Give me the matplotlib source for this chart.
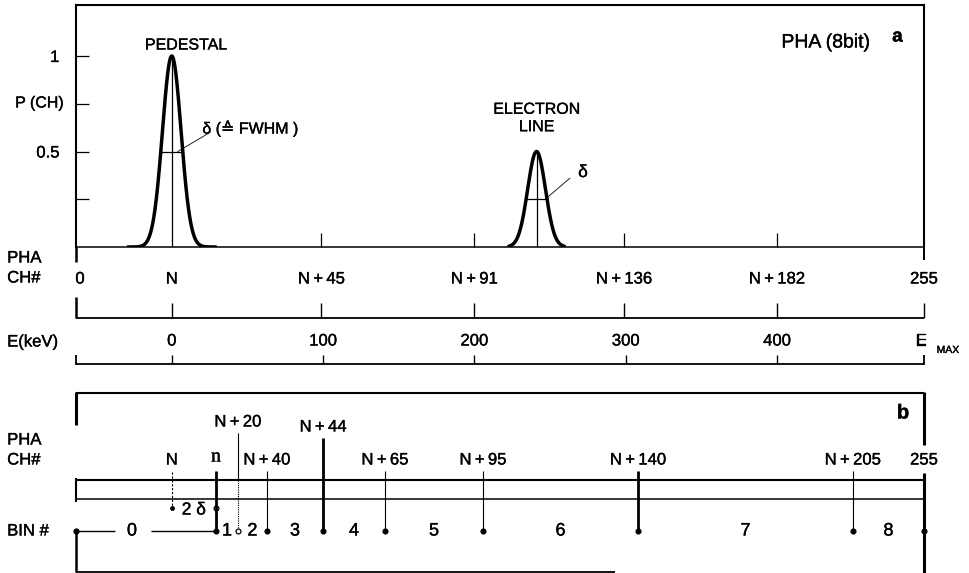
import numpy as np
import matplotlib.pyplot as plt
import matplotlib.patheffects as pe

plt.rcParams['font.family'] = ['Liberation Sans', 'DejaVu Sans']
plt.rcParams['font.size'] = 12

# 8 bit pulse height spectrum, x in PHA channels
ped_ch = 28.8          # pedestal position N
ped_fwhm = 6.6
ped_span = 13.0
el_ch = 138.5          # electron line
el_fwhm = 6.3
el_peak = 0.5
el_span = 8.2

ch_offsets = [45, 91, 136, 182]
e_ticks = [0, 100, 200, 300, 400]
ch_per_100kev = 45.5

# bin boundaries used for the compressed spectrum (panel b)
edge_ch = [42.1, 48.7, 57.4, 74.3, 92.9, 122.4, 169.0, 233.6, 255]
edge_labels = ['n', 'N+20', 'N+40', 'N+44', 'N+65', 'N+95', 'N+140', 'N+205', '255']
bin_numbers = list(range(9))

heavy = {'n', 'N+44', 'N+140', '255'}
raised = {'N+20': 422, 'N+44': 427}

W, H = 969, 573
x0_px, x1_px = 76, 924
s = (x1_px - x0_px) / 255
ink = [pe.withStroke(linewidth=0.25, foreground='k')]

fig = plt.figure(figsize=(W / 100, H / 100), dpi=100)
ax = fig.add_axes([0, 0, 1, 1])
ax.set_xlim(-x0_px / s, 255 + (W - x1_px) / s)
ax.set_ylim(H, 0)
ax.axis('off')


def txt(x, y, t, target=None, **kw):
    kw.setdefault('ha', 'center')
    kw.setdefault('va', 'center')
    return (target or ax).text(x, y, t, path_effects=ink, **kw)


def spaced(label):
    # printed labels have a little air around the plus sign
    return label.replace('+', '\u2009+\u2009')


def vline(x, r0, r1, lw=1.3, **kw):
    ax.plot([x, x], [r0, r1], color='k', lw=lw, solid_capstyle='butt', **kw)


def hline(r, x0, x1, lw=1.3, **kw):
    ax.plot([x0, x1], [r, r], color='k', lw=lw, solid_capstyle='butt', **kw)


# ---- panel a: spectrum ----
base_row, one_row, top_row = 247, 56, 5
unit = base_row - one_row
ax_a = fig.add_axes([x0_px / W, 1 - base_row / H, (x1_px - x0_px) / W, (base_row - top_row) / H])
ax_a.set_xlim(0, 255)
ax_a.set_ylim(0, (base_row - top_row) / unit)
ax_a.patch.set_visible(False)
for name, sp in ax_a.spines.items():
    sp.set_linewidth(1.1 if name == 'bottom' else 1.5)
ax_a.set_yticks([0.25, 0.5, 0.75, 1])
ax_a.set_yticklabels(['', '0.5', '', '1'])
ax_a.tick_params(axis='y', direction='in', length=9, width=0.9, pad=12, labelsize=12)
for lab in ax_a.get_yticklabels():
    lab.set_path_effects(ink)
ax_a.set_xticks([ped_ch + o for o in ch_offsets])
ax_a.tick_params(axis='x', direction='in', length=10, width=0.9, labelbottom=False)


def peak(ax_, centre, fwhm, height, span):
    sig = fwhm / (2 * np.sqrt(2 * np.log(2)))
    x = np.linspace(centre - span, centre + span, 300)
    ax_.plot(x, height * np.exp(-0.5 * ((x - centre) / sig) ** 2), color='k', lw=2.5)
    ax_.plot([centre, centre], [0, height], color='k', lw=0.9)
    ax_.plot([centre - fwhm / 2, centre + fwhm / 2], [height / 2, height / 2], color='k', lw=0.9)


peak(ax_a, ped_ch, ped_fwhm, 1.0, ped_span)
peak(ax_a, el_ch, el_fwhm, el_peak, el_span)

ax_a.plot([ped_ch + 1.8, ped_ch + 11.5], [0.5, 0.6], color='k', lw=0.6)
txt(ped_ch + 9.2, 0.62, 'δ (≙ FWHM )', target=ax_a, ha='left', fontsize=11.5)
ax_a.plot([el_ch + 2.6, el_ch + 10.0], [el_peak / 2, 0.36], color='k', lw=0.6)
txt(el_ch + 12.5, 0.39, 'δ', target=ax_a, ha='left', fontsize=12.5)

txt(ped_ch + 4.3, 45, 'PEDESTAL', fontsize=11.5)
txt(el_ch, 118, 'ELECTRON\nLINE', fontsize=11.5, linespacing=1.2)
txt(225.5, 43, 'PHA (8bit)', fontsize=14)
txt(247, 37, 'a', fontsize=13.5, fontweight='bold')
txt(-18.3, 103, 'P (CH)', ha='left', fontsize=11.5)

# frame continues a little below the baseline
vline(0, base_row, 262, lw=1.8)
vline(255, base_row, 260, lw=1.4)

# channel scale
ch_pos = [0, ped_ch] + [ped_ch + o for o in ch_offsets] + [255]
ch_text = ['0', 'N'] + ['N+%d' % o for o in ch_offsets] + ['255']
txt(-20.7, 258, 'PHA', ha='left', fontsize=12)
txt(-20.7, 278, 'CH#', ha='left', fontsize=12)
for x, t in zip(ch_pos, ch_text):
    txt(x + (1.2 if x == 0 else 0), 279, spaced(t), fontsize=12)
    vline(x, 297 if x == 0 else 303, 318, lw=1.8 if x == 0 else 1.0)
hline(318, 0, 255, lw=1.3)

# energy scale
e_pos = [ped_ch + e * ch_per_100kev / 100 for e in e_ticks]
txt(-20.7, 342, 'E(keV)', ha='left', fontsize=12)
for x, e in zip(e_pos, e_ticks):
    txt(x, 341, str(e), fontsize=12)
    vline(x, 355, 364, lw=1.0)
txt(254.2, 341, 'E', fontsize=12.5)
txt(258.8, 350, 'MAX', ha='left', fontsize=7.5)
vline(0, 355, 365, lw=1.3)
vline(255, 355, 365, lw=1.3)
hline(364, 0, 255, lw=1.3)

# ---- panel b: binning ----
hline(393, 0, 255, lw=1.5)
vline(0, 392, 425, lw=2.2)
vline(255, 392, 445, lw=2.2)
txt(248.7, 413, 'b', fontsize=14.5, fontweight='bold')
txt(-20.7, 440, 'PHA', ha='left', fontsize=12)
txt(-20.7, 460, 'CH#', ha='left', fontsize=12)

hline(480, 0, 255, lw=1.5)
hline(499, 0, 255, lw=1.1)
vline(0, 478, 502, lw=1.5)

bin_row = 531
txt(-20.7, bin_row, 'BIN #', ha='left', fontsize=12)

# pedestal marker and 2 delta interval
txt(ped_ch, 460, 'N', fontsize=12)
ax.plot([ped_ch, ped_ch], [472, 508], color='k', lw=0.8, ls=(0, (2, 1.5)))
ax.plot([ped_ch], [508], 'o', color='k', ms=2.5)
ax.plot([edge_ch[0]], [508], 'o', color='k', mfc='white', ms=3.5, mew=0.9)
txt((ped_ch + edge_ch[0]) / 2, 510, '2 δ', fontsize=12.5)

for x, lab in zip(edge_ch, edge_labels):
    lrow = raised.get(lab, 460)
    if lab == 'n':
        txt(x, 457, lab, fontsize=14, family='Liberation Serif')
    else:
        txt(x, lrow, spaced(lab), fontsize=12)
    top = lrow + 11
    if lab == '255':
        vline(x, 473, H, lw=2.2)
    elif lab == 'N+20':
        vline(x, top, 480, lw=0.8)
        ax.plot([x, x], [480, bin_row], color='k', lw=0.8, ls=(0, (1, 1)))
    else:
        vline(x, top, bin_row, lw=2.0 if lab in heavy else 0.8)
    ax.plot([x], [bin_row], 'o', color='k', ms=3.5,
            mfc='white' if lab == 'N+20' else 'k', mew=0.9)

# bin numbers between the boundaries
lefts = [0] + edge_ch[:-1]
for b, lo, hi in zip(bin_numbers, lefts, edge_ch):
    xc = lo + 0.4 * (hi - lo) if b == 0 else (lo + hi) / 2
    txt(xc, bin_row, str(b), fontsize=13)
    if b == 0:
        hline(bin_row, lo, xc - 5.2, lw=1.0)
        hline(bin_row, xc + 5.8, hi, lw=1.0)
ax.plot([0], [bin_row], 'o', color='k', ms=3.5)
vline(0, bin_row, 572, lw=1.8)
hline(572, 0, 162, lw=1.3)

fig.savefig('out.png', dpi=100)
